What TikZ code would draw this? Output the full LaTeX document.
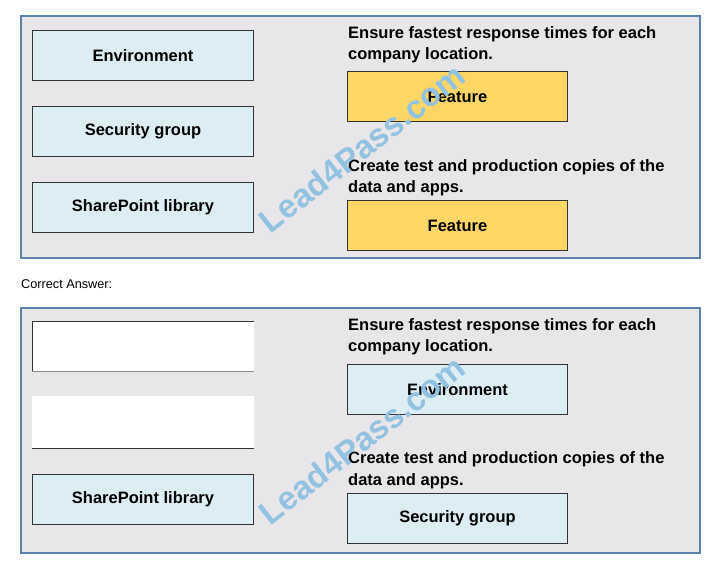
\documentclass[tikz,border=0pt]{standalone}
\usepackage{fontspec}
\setmainfont{Liberation Sans}
\usepackage{tikz}

\definecolor{panelgray}{HTML}{E8E6E8}
\definecolor{panelblue}{HTML}{5A82AC}
\definecolor{optblue}{HTML}{DCEDF4}
\definecolor{featyellow}{HTML}{FDD665}
\definecolor{wmblue}{HTML}{92C2E2}

\begin{document}
\begin{tikzpicture}[x=1pt,y=-1pt,
  panel/.style={draw=panelblue, line width=1.2pt, fill=panelgray},
  optbox/.style={draw=black!80, line width=1pt, fill=optblue, anchor=north west,
    minimum width=221pt, minimum height=50pt, inner sep=0pt,
    font=\fontsize{16.5}{20}\selectfont\bfseries},
  featbox/.style={optbox, fill=featyellow, minimum width=220pt},
  prompt/.style={anchor=base west, inner sep=0pt, align=left,
    font=\fontsize{16.5}{21.5}\selectfont\bfseries},
  wmark/.style={rotate=38, text=wmblue, font=\fontsize{33}{33}\selectfont\bfseries}]
\useasboundingbox (0,0) rectangle (721,564);

% question
\draw[panel] (21,16) rectangle (700,258);
\node[optbox] (env) at (32,30) {Environment};
\node[optbox] (sec) at (32,106) {Security group};
\node[optbox] (spl) at (32,182) {SharePoint library};
\node[prompt] (q1) at (348,60) {Ensure fastest response times for each\\company location.};
\node[featbox] (f1) at (347,71) {Feature};
\node[prompt] (q2) at (348,193) {Create test and production copies of the\\data and apps.};
\node[featbox] (f2) at (347,200) {Feature};
\node[wmark] (wm1) at (362,148) {Lead4Pass.com};

\node[anchor=base west, inner sep=0pt, font=\fontsize{12.7}{14}\selectfont] (ca) at (21,289) {Correct Answer:};

% answer
\draw[panel] (21,308) rectangle (700,553);
\fill[white] (32,322) rectangle (254,372);
\draw[black!80, line width=1pt] (32,372) -- (32,322) -- (254,322);
\draw[black!45, line width=1pt] (32,372) -- (254,372);
\fill[white] (32,396) rectangle (254,448);
\draw[black!80, line width=1pt] (32,448) -- (254,448);
\node[optbox] (spl2) at (32,474) {SharePoint library};
\node[prompt] (q3) at (348,352) {Ensure fastest response times for each\\company location.};
\node[optbox, minimum width=220pt] (a1) at (347,364) {Environment};
\node[prompt] (q4) at (348,485) {Create test and production copies of the\\data and apps.};
\node[optbox, minimum width=220pt] (a2) at (347,493) {Security group};
\node[wmark] (wm2) at (362,440) {Lead4Pass.com};
\end{tikzpicture}
\end{document}
